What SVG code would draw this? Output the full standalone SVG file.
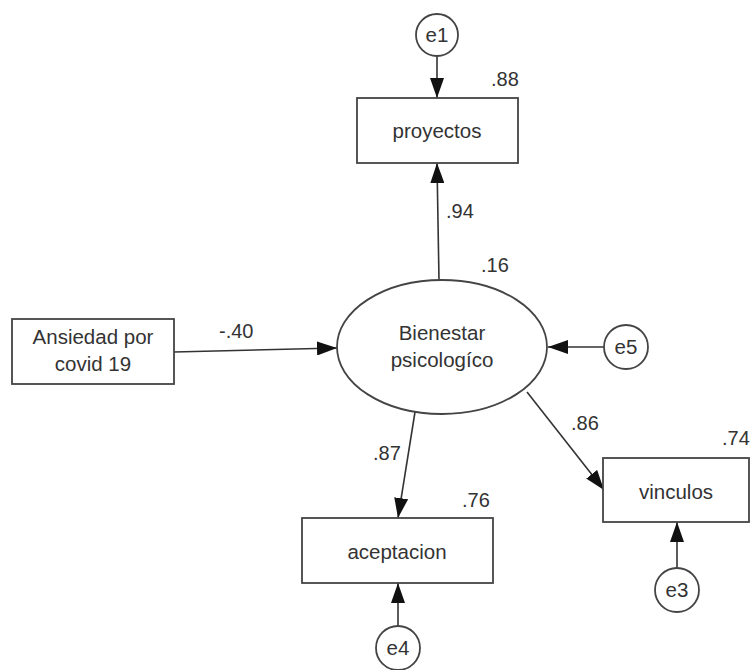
<svg xmlns="http://www.w3.org/2000/svg" width="751" height="670" viewBox="0 0 751 670">
<style>
.box{fill:#fff;stroke:#444;stroke-width:1.8}
.t{font-family:"Liberation Sans",Arial,sans-serif;font-size:20.5px;fill:#333;text-anchor:middle}
.n{font-family:"Liberation Sans",Arial,sans-serif;font-size:20px;fill:#333}
.c{fill:none;stroke:#333;stroke-width:1.6;marker-end:url(#ah)}
</style>
<defs>
<marker id="ah" markerUnits="userSpaceOnUse" markerWidth="20" markerHeight="14" refX="20" refY="7" orient="auto">
<path d="M0,0 L20,7 L0,14 z" fill="#111"/>
</marker>
</defs>
<rect width="751" height="670" fill="#fff"/>
<g id="connectors">
<line class="c" x1="437" y1="56" x2="437" y2="98"/>
<line class="c" x1="439" y1="280" x2="437" y2="163"/>
<line class="c" x1="174" y1="352" x2="337" y2="348"/>
<line class="c" x1="604" y1="347" x2="548" y2="347"/>
<line class="c" x1="415" y1="412" x2="398" y2="518"/>
<line class="c" x1="527" y1="392" x2="604" y2="490"/>
<line class="c" x1="398" y1="626" x2="398" y2="583"/>
<line class="c" x1="677" y1="568" x2="677" y2="522"/>
</g>
<g id="e1"><circle class="box" cx="437" cy="35" r="21"/><text class="t" x="437" y="42">e1</text></g>
<g id="proyectos"><rect class="box" x="357" y="98" width="161" height="65"/><text class="t" x="437" y="138">proyectos</text><text class="n" x="491" y="86">.88</text></g>
<g id="bienestar"><ellipse class="box" cx="442" cy="347" rx="105" ry="67"/><text class="t" x="442" y="340">Bienestar</text><text class="t" x="442" y="367">psicologíco</text><text class="n" x="481" y="272">.16</text></g>
<text class="n" x="446" y="218">.94</text>
<g id="ansiedad"><rect class="box" x="12" y="319" width="162" height="65"/><text class="t" x="93" y="344">Ansiedad por</text><text class="t" x="93" y="371">covid 19</text></g>
<text class="n" x="219" y="338">-.40</text>
<g id="e5"><circle class="box" cx="626" cy="347" r="22"/><text class="t" x="626" y="354">e5</text></g>
<g id="aceptacion"><rect class="box" x="302" y="518" width="191" height="65"/><text class="t" x="397" y="559">aceptacion</text><text class="n" x="462" y="507">.76</text></g>
<text class="n" x="373" y="460">.87</text>
<g id="e4"><circle class="box" cx="398" cy="648" r="22"/><text class="t" x="398" y="655">e4</text></g>
<g id="vinculos"><rect class="box" x="603" y="458" width="146" height="64"/><text class="t" x="676" y="499">vinculos</text><text class="n" x="722" y="445">.74</text></g>
<text class="n" x="571" y="430">.86</text>
<g id="e3"><circle class="box" cx="677" cy="590" r="22"/><text class="t" x="677" y="597">e3</text></g>
</svg>
